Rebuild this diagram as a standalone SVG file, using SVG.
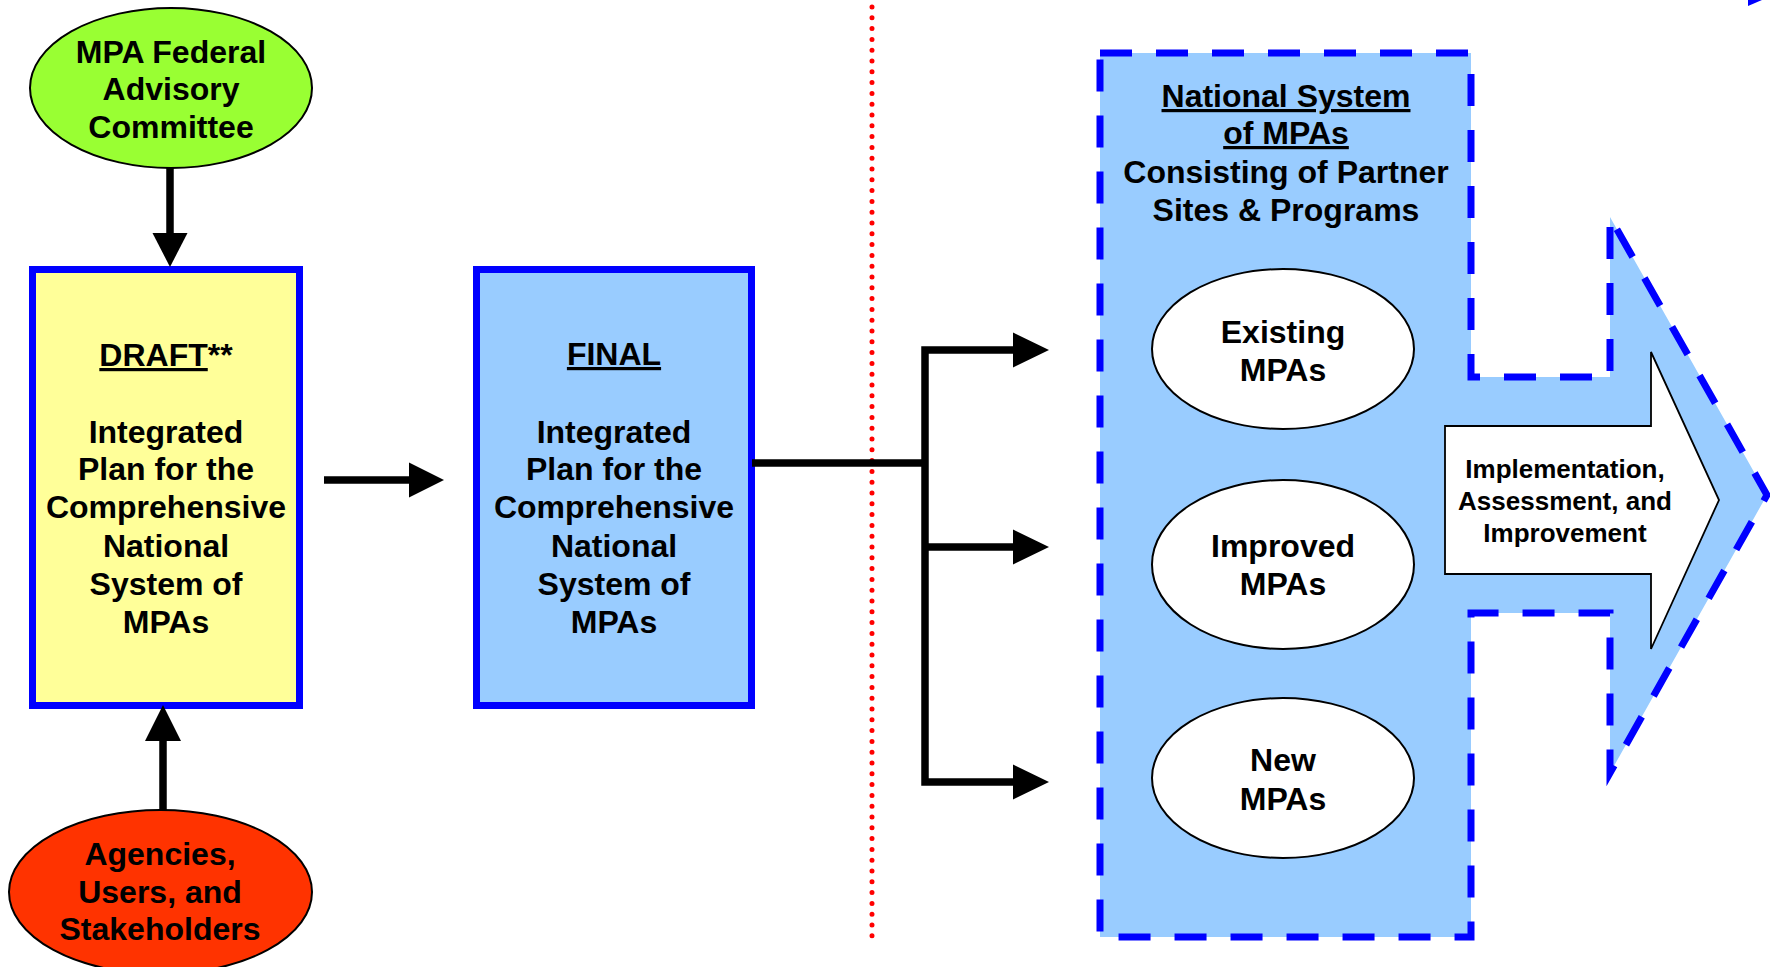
<svg xmlns="http://www.w3.org/2000/svg" width="1770" height="967" viewBox="0 0 1770 967">
<style>
  text { font-family: "Liberation Sans", Arial, sans-serif; font-weight: bold; fill: #000; text-anchor: middle; }
  .t32 { font-size: 32px; }
  .t26 { font-size: 26px; }
  .u { text-decoration: underline; }
  .ell { stroke: #000; stroke-width: 2; }
  .box { stroke: #0000FF; stroke-width: 7; }
  .line { stroke: #000; stroke-width: 7.5; fill: none; }
  .head { fill: #000; }
</style>
<rect x="0" y="0" width="1770" height="967" fill="#FFFFFF"/>

<g id="divider">
  <line x1="872" y1="7" x2="872" y2="940" stroke="#FF0000" stroke-width="5" stroke-linecap="round" stroke-dasharray="0 10.8"/>
</g>

<g id="national-system">
  <path d="M1100,53 L1471,53 L1471,377 L1610,377 L1610,217 L1767,495 L1610,773 L1610,613 L1471,613 L1471,937 L1100,937 Z" fill="#99CCFF" stroke="#0000FF" stroke-width="7" stroke-dasharray="32 24"/>
  <polygon points="1748,0 1762,0 1748,6" fill="#0000FF"/>
  <text class="t32" x="1286"><tspan class="u" x="1286" y="107">National System</tspan><tspan class="u" x="1286" y="144">of MPAs</tspan><tspan x="1286" y="183">Consisting of Partner</tspan><tspan x="1286" y="221">Sites &amp; Programs</tspan></text>
</g>

<g id="implementation-arrow">
  <polygon points="1445,426 1651,426 1651,352 1719,500 1651,649 1651,574 1445,574" fill="#FFFFFF" stroke="#000" stroke-width="1.8"/>
  <text class="t26"><tspan x="1565" y="478">Implementation,</tspan><tspan x="1565" y="510">Assessment, and</tspan><tspan x="1565" y="542">Improvement</tspan></text>
</g>

<g id="existing-mpas">
  <ellipse class="ell" cx="1283" cy="349" rx="131" ry="80" fill="#FFFFFF"/>
  <text class="t32"><tspan x="1283" y="343">Existing</tspan><tspan x="1283" y="381">MPAs</tspan></text>
</g>
<g id="improved-mpas">
  <ellipse class="ell" cx="1283" cy="564.5" rx="131" ry="84.5" fill="#FFFFFF"/>
  <text class="t32"><tspan x="1283" y="557">Improved</tspan><tspan x="1283" y="595">MPAs</tspan></text>
</g>
<g id="new-mpas">
  <ellipse class="ell" cx="1283" cy="778" rx="131" ry="80" fill="#FFFFFF"/>
  <text class="t32"><tspan x="1283" y="771">New</tspan><tspan x="1283" y="810">MPAs</tspan></text>
</g>

<g id="advisory-committee">
  <ellipse class="ell" cx="171" cy="88" rx="141" ry="80" fill="#99FF33"/>
  <text class="t32"><tspan x="171" y="63">MPA Federal</tspan><tspan x="171" y="100">Advisory</tspan><tspan x="171" y="138">Committee</tspan></text>
</g>

<g id="stakeholders">
  <ellipse class="ell" cx="160.5" cy="892" rx="151.5" ry="82" fill="#FF3300"/>
  <text class="t32"><tspan x="160" y="865">Agencies,</tspan><tspan x="160" y="903">Users, and</tspan><tspan x="160" y="940">Stakeholders</tspan></text>
</g>

<g id="draft-plan">
  <rect class="box" x="32.5" y="269.5" width="267" height="436" fill="#FFFF99"/>
  <text class="t32"><tspan x="166" y="366"><tspan class="u">DRAFT</tspan>**</tspan><tspan x="166" y="443">Integrated</tspan><tspan x="166" y="480">Plan for the</tspan><tspan x="166" y="518">Comprehensive</tspan><tspan x="166" y="557">National</tspan><tspan x="166" y="595">System of</tspan><tspan x="166" y="633">MPAs</tspan></text>
</g>

<g id="final-plan">
  <rect class="box" x="476.5" y="269.5" width="275" height="436" fill="#99CCFF"/>
  <text class="t32"><tspan class="u" x="614" y="365">FINAL</tspan><tspan x="614" y="443">Integrated</tspan><tspan x="614" y="480">Plan for the</tspan><tspan x="614" y="518">Comprehensive</tspan><tspan x="614" y="557">National</tspan><tspan x="614" y="595">System of</tspan><tspan x="614" y="633">MPAs</tspan></text>
</g>

<g id="connectors">
  <line class="line" x1="170" y1="168" x2="170" y2="236"/>
  <polygon class="head" points="152.5,233 187.5,233 170,267"/>
  <line class="line" x1="163" y1="810" x2="163" y2="738"/>
  <polygon class="head" points="145,741 181,741 163,705"/>
  <line class="line" x1="324" y1="480" x2="412" y2="480"/>
  <polygon class="head" points="409,462.5 409,497.5 444,480"/>
  <line class="line" x1="752" y1="463" x2="925" y2="463"/>
  <polyline class="line" points="1016,350 925,350 925,782 1016,782"/>
  <line class="line" x1="925" y1="547" x2="1016" y2="547"/>
  <polygon class="head" points="1013,332.5 1013,367.5 1049,350"/>
  <polygon class="head" points="1013,529.5 1013,564.5 1049,547"/>
  <polygon class="head" points="1013,764.5 1013,799.5 1049,782"/>
</g>
</svg>
